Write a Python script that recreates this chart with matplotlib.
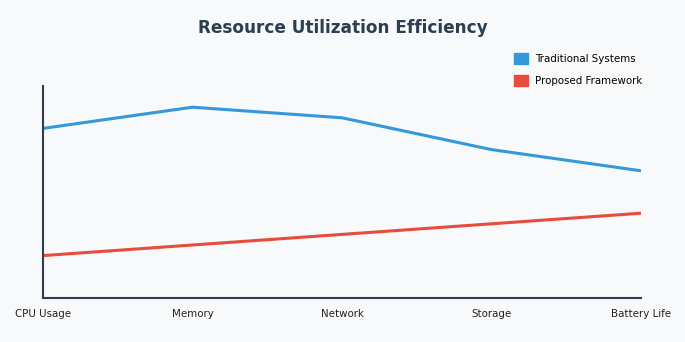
import matplotlib
matplotlib.use("Agg")
import matplotlib.pyplot as plt
from matplotlib.patches import Patch

categories = ["CPU Usage", "Memory", "Network", "Storage", "Battery Life"]
traditional = [80, 90, 85, 70, 60]
proposed = [20, 25, 30, 35, 40]

BG = "#f8f9fa"
DARK = "#2c3e50"
BLUE = "#3498db"
RED = "#e74c3c"

fig = plt.figure(figsize=(6.85, 3.42), dpi=100, facecolor=BG)
ax = fig.add_axes([43 / 685, 44 / 342, 598 / 685, 212 / 342], facecolor=BG)

x = list(range(len(categories)))
ax.plot(x, traditional, color=BLUE, lw=2.2, solid_capstyle="butt")
ax.plot(x, proposed, color=RED, lw=2.2, solid_capstyle="butt")

ax.set_xlim(0, len(categories) - 1)
ax.set_ylim(0, 100)
ax.set_xticks(x)
ax.set_xticklabels(categories, fontsize=7.4, color="#222222")
ax.tick_params(axis="x", length=0, pad=8)
ax.set_yticks([])
for s in ["top", "right"]:
    ax.spines[s].set_visible(False)
for s in ["left", "bottom"]:
    ax.spines[s].set_color(DARK)
    ax.spines[s].set_linewidth(1.5)

fig.text(0.5, 1 - 28 / 342, "Resource Utilization Efficiency", ha="center", va="center",
         fontsize=12.2, fontweight="bold", color=DARK)

handles = [Patch(color=BLUE, label="Traditional Systems"),
           Patch(color=RED, label="Proposed Framework")]
fig.legend(handles=handles, loc="upper left", bbox_to_anchor=(505 / 685, 1 - 44 / 342),
           frameon=False, fontsize=7.4, handlelength=1.3, handleheight=1.3,
           handletextpad=0.7, labelspacing=1.0)

fig.savefig("out.png", dpi=100, facecolor=BG)
